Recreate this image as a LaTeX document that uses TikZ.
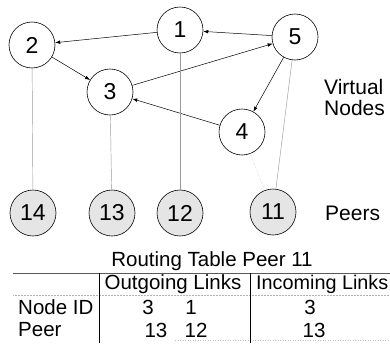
\documentclass[tikz,border=0pt]{standalone}
\usepackage{fontspec}
\setmainfont{Liberation Sans}
\usetikzlibrary{arrows.meta}

\tikzset{
	vnode/.style={draw, circle, minimum size=46pt, inner sep=0pt, line width=0.6pt, font=\fontsize{23}{23}\selectfont},
	peer/.style={vnode, fill=gray!20},
	link/.style={-{Latex[length=5pt,width=3.6pt]}, line width=0.5pt},
	host/.style={gray!80, line width=0.45pt},
	lbl/.style={font=\fontsize{21}{21}\selectfont, inner sep=0pt},
	cell/.style={font=\fontsize{20.5}{20.5}\selectfont, inner sep=0pt}
}

\begin{document}
\begin{tikzpicture}[x=1pt, y=-1pt]
		\useasboundingbox (0,0) rectangle (390,343);

		% Virtual nodes
		\node[vnode] (n1) at (180,30) {1};
		\node[vnode] (n2) at (32,45) {2};
		\node[vnode] (n3) at (110,92) {3};
		\node[vnode] (n4) at (242,132) {4};
		\node[vnode] (n5) at (295,37) {5};

		% Peers
		\node[peer] (p14) at (33,213) {14};
		\node[peer] (p13) at (112,213) {13};
		\node[peer] (p12) at (180,213) {12};
		\node[peer] (p11) at (273,212) {11};

		% Links between virtual nodes
		\draw[link] (n1) -- (n2);
		\draw[link] (n5) -- (n1);
		\draw[link] (n2) -- (n3);
		\draw[link] (n3) -- (n5);
		\draw[link] (n5) -- (n4);
		\draw[link] (n4) -- (n3);

		% Which peer hosts which node
		\draw[host] (n2) -- (p14);
		\draw[host] (n3) -- (p13);
		\draw[host] (n1) -- (p12);
		\draw[host] (n5) -- (p11);
		\draw[host, gray!45, densely dotted] (n4) -- (p11);

		\node[lbl, anchor=west] (virt) at (324,87) {Virtual};
		\node[lbl, anchor=west] (nods) at (324,108) {Nodes};
		\node[lbl, anchor=west] (peers) at (325,213) {Peers};

		% Routing table
		\node[cell] (title) at (212,261) {Routing Table Peer 11};
		\draw[gray!70!black, line width=0.5pt] (13,273) -- (390,273);
		\draw[gray!60, densely dotted, line width=0.5pt] (13,295) -- (390,295);
		\draw[gray!50, dotted, line width=0.5pt] (175,340) -- (390,340);
		\draw[line width=0.5pt] (99,273) -- (99,343);
		\draw[line width=0.5pt] (250,273) -- (250,343);

		\node[cell] (outg) at (173,284) {Outgoing Links};
		\node[cell, anchor=west, font=\fontsize{19.8}{20}\selectfont] (inc) at (256,284) {Incoming Links};
		\node[cell, anchor=west] (rid) at (18,307) {Node ID};
		\node[cell, anchor=west] (rpeer) at (18,330) {Peer};
		\node[cell] (o3) at (148,307) {3};
		\node[cell] (o1) at (191,307) {1};
		\node[cell] (o13) at (156,330) {13};
		\node[cell] (o12) at (196,330) {12};
		\node[cell] (i3) at (310,307) {3};
		\node[cell] (i13) at (314,330) {13};
	\end{tikzpicture}
\end{document}
